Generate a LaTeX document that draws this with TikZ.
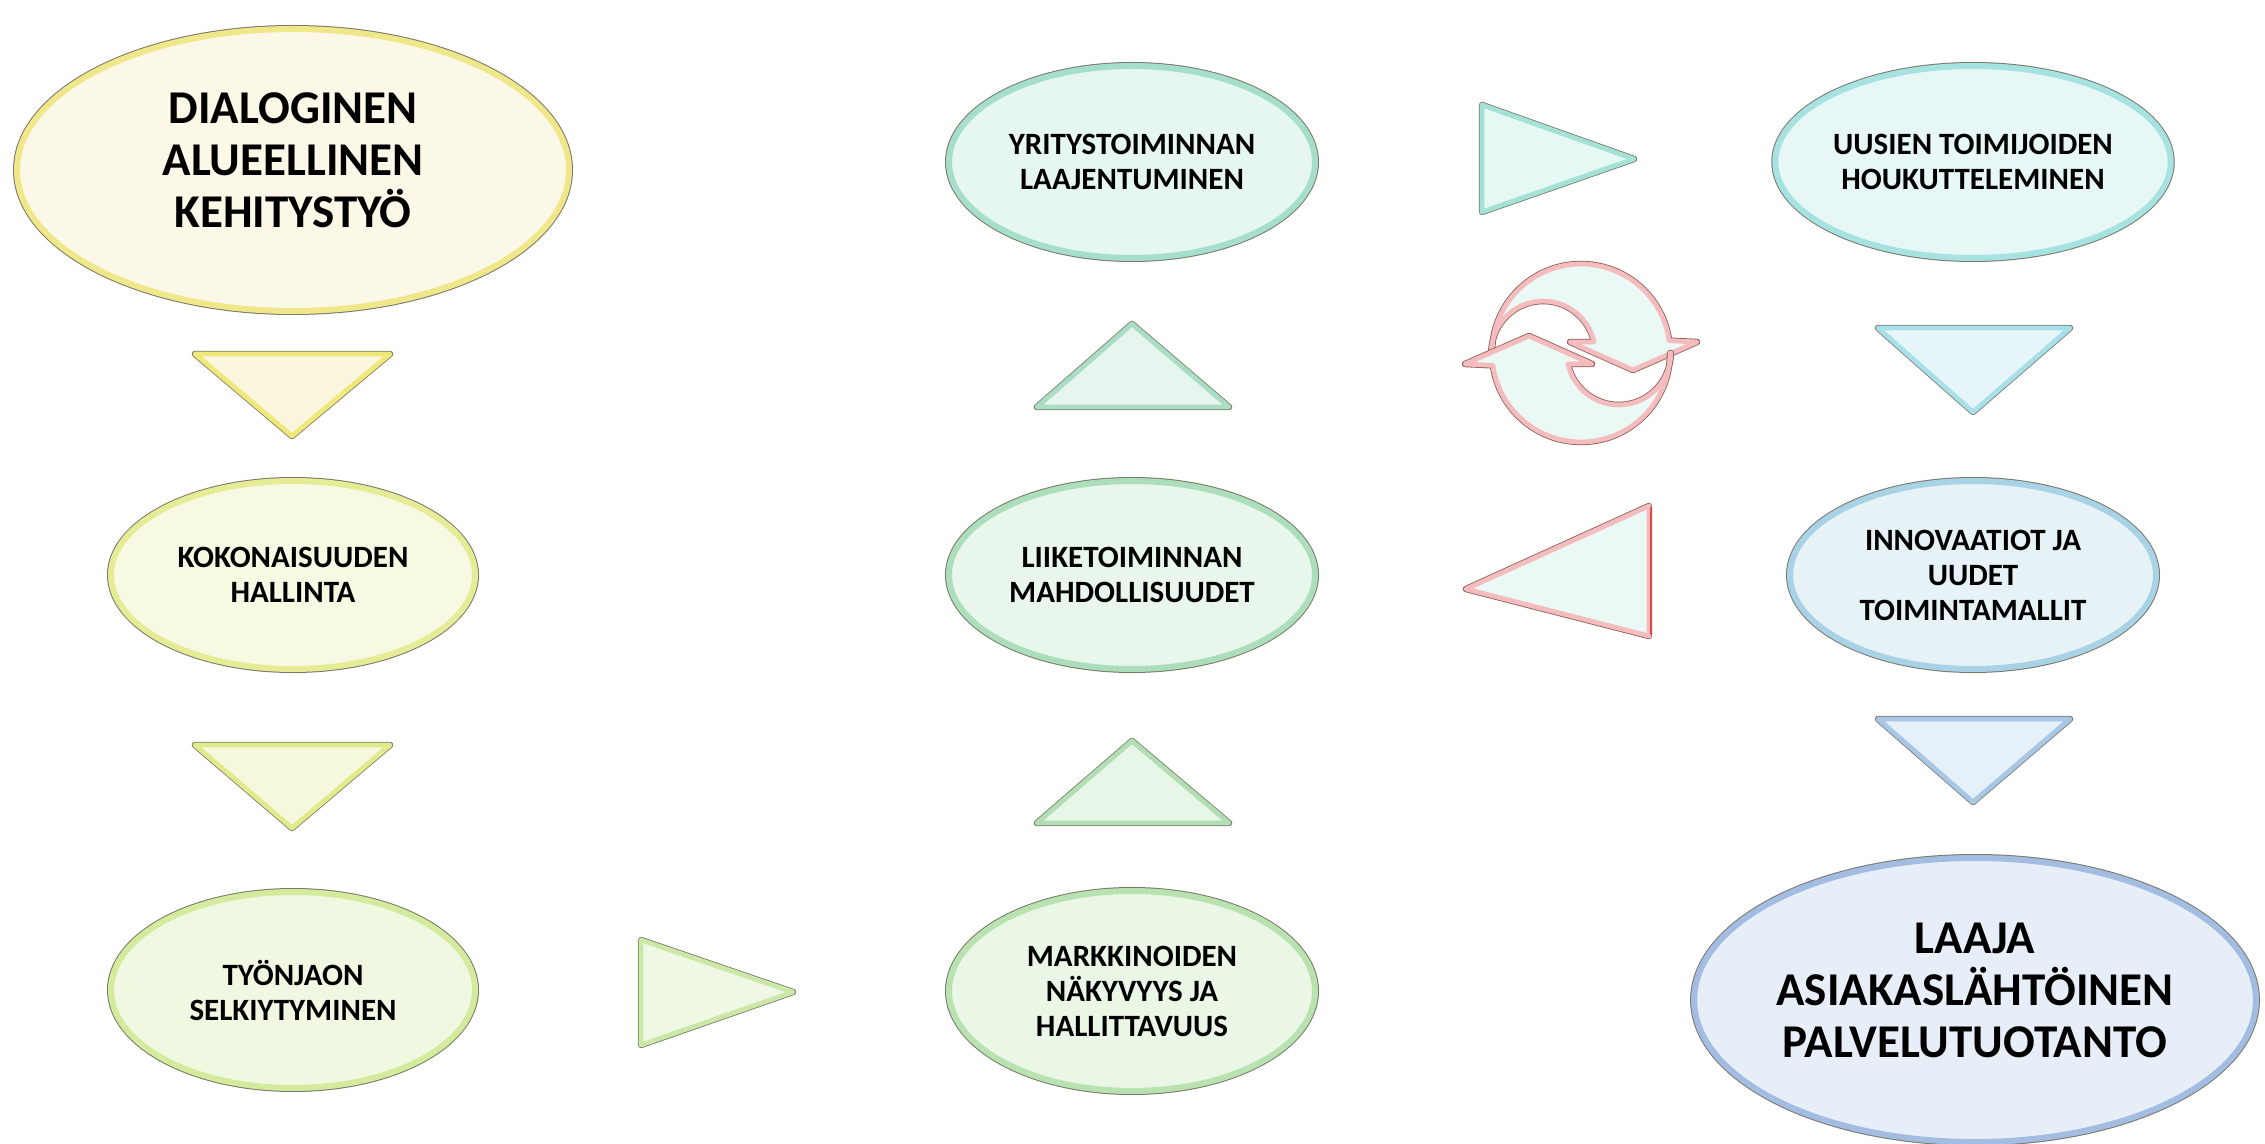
\documentclass[tikz,border=0pt]{standalone}
\usepackage{fontspec}
\setmainfont{Carlito}
\usetikzlibrary{shapes.geometric}
\definecolor{outl}{HTML}{7A7868}
\definecolor{outr}{HTML}{8A5A5A}
% fills / rims
\definecolor{fA}{HTML}{FCF8E8}\definecolor{rA}{HTML}{F0E68A}
\definecolor{fT1}{HTML}{FAF6DE}\definecolor{rT1}{HTML}{F0E878}
\definecolor{fB}{HTML}{F8F9E2}\definecolor{rB}{HTML}{E6EC96}
\definecolor{fT2}{HTML}{F6F8DE}\definecolor{rT2}{HTML}{E2EA8C}
\definecolor{fC}{HTML}{F1F8E2}\definecolor{rC}{HTML}{D4EA9C}
\definecolor{fT3}{HTML}{EEF8E4}\definecolor{rT3}{HTML}{CCE8A8}
\definecolor{fD}{HTML}{EAF6E6}\definecolor{rD}{HTML}{B8E2B0}
\definecolor{fT4}{HTML}{E8F6E8}\definecolor{rT4}{HTML}{B2DEB4}
\definecolor{fE}{HTML}{E8F6EC}\definecolor{rE}{HTML}{ACDEBC}
\definecolor{fT5}{HTML}{E6F6EE}\definecolor{rT5}{HTML}{AADEC4}
\definecolor{fF}{HTML}{E6F6F0}\definecolor{rF}{HTML}{A6DECC}
\definecolor{fT6}{HTML}{E6F8F4}\definecolor{rT6}{HTML}{A4E2D8}
\definecolor{fG}{HTML}{E6F7F6}\definecolor{rG}{HTML}{A6E2E2}
\definecolor{fT7}{HTML}{E6F6F8}\definecolor{rT7}{HTML}{A8E0EA}
\definecolor{fH}{HTML}{E6F2F6}\definecolor{rH}{HTML}{A8D2E6}
\definecolor{fT8}{HTML}{E6F0F8}\definecolor{rT8}{HTML}{A8C6E6}
\definecolor{fI}{HTML}{E8EEF8}\definecolor{rI}{HTML}{A2BCE2}
\definecolor{fR}{HTML}{EAF8F6}\definecolor{rR}{HTML}{F4BCBC}
\definecolor{redline}{HTML}{E04848}
\tikzset{
  bubble/.style n args={2}{ellipse, inner sep=0pt, fill=#1, draw=#2,
     line width=3pt, preaction={draw=outl, line width=4pt}, align=center},
  smalltxt/.style={font=\bfseries\fontsize{15.5}{17.5}\selectfont},
  bigtxt/.style={font=\bfseries\fontsize{23.5}{26}\selectfont},
  tri/.style n args={2}{fill=#1, draw=#2, line width=2.4pt, line join=round,
     preaction={draw=outl, line width=3.2pt, line join=round}},
  redshape/.style={fill=fR, draw=rR, line width=2.4pt, line join=round,
     preaction={draw=outr, line width=3.2pt, line join=round}}
}
\newcommand{\lowpad}{\rule[-10pt]{0pt}{0pt}}
\begin{document}
\begin{tikzpicture}[x=0.5pt, y=-0.5pt]
\useasboundingbox (0,0) rectangle (2265,1144);

% ellipse nodes
\node[bubble={fA}{rA}, bigtxt, minimum width=276pt, minimum height=141pt] (A) at (293,170)
  {DIALOGINEN\\ALUEELLINEN\\KEHITYSTYÖ\lowpad};
\node[bubble={fB}{rB}, smalltxt, minimum width=182pt, minimum height=94pt] (B) at (293,575)
  {KOKONAISUUDEN\\HALLINTA};
\node[bubble={fC}{rC}, smalltxt, minimum width=182pt, minimum height=98pt] (C) at (293,990)
  {TYÖNJAON\\SELKIYTYMINEN};
\node[bubble={fD}{rD}, smalltxt, minimum width=183pt, minimum height=100pt] (D) at (1132,991)
  {MARKKINOIDEN\\NÄKYVYYS JA\\HALLITTAVUUS};
\node[bubble={fE}{rE}, smalltxt, minimum width=183pt, minimum height=94pt] (E) at (1132,575)
  {LIIKETOIMINNAN\\MAHDOLLISUUDET};
\node[bubble={fF}{rF}, smalltxt, minimum width=183pt, minimum height=96pt] (F) at (1132,162)
  {YRITYSTOIMINNAN\\LAAJENTUMINEN};
\node[bubble={fG}{rG}, smalltxt, minimum width=183pt, minimum height=96pt] (G) at (1973,162)
  {UUSIEN TOIMIJOIDEN\\HOUKUTTELEMINEN};
\node[bubble={fH}{rH}, smalltxt, minimum width=183pt, minimum height=94pt] (H) at (1973,575)
  {INNOVAATIOT JA\\UUDET\\TOIMINTAMALLIT};
\node[bubble={fI}{rI}, bigtxt, minimum width=277pt, minimum height=142pt] (I) at (1975,1000)
  {LAAJA\\ASIAKASLÄHTÖINEN\\PALVELUTUOTANTO\lowpad};

% triangle arrows
\draw[tri={fT1}{rT1}] (195,354) -- (390,354) -- (292,436) -- cycle;
\draw[tri={fT2}{rT2}] (195,745) -- (390,745) -- (292,828) -- cycle;
\draw[tri={fT3}{rT3}] (641,940) -- (793,992) -- (641,1045) -- cycle;
\draw[tri={fT4}{rT4}] (1037,823) -- (1229,823) -- (1132,741) -- cycle;
\draw[tri={fT5}{rT5}] (1037,407) -- (1229,407) -- (1132,324) -- cycle;
\draw[tri={fT6}{rT6}] (1482,105) -- (1634,159) -- (1482,212) -- cycle;
\draw[tri={fT7}{rT7}] (1878,328) -- (2070,328) -- (1973,412) -- cycle;
\draw[tri={fT8}{rT8}] (1878,719) -- (2070,719) -- (1973,802) -- cycle;

% red feedback triangle
\draw[redshape] (1649,506) -- (1649,636) -- (1466,589) -- cycle;
\draw[redline, line width=1.2pt] (1651,507) -- (1651,635);

% cycle icon
\begin{scope}[shift={(1581,353)}, yscale=-1]
  \draw[redshape] (-89,0) arc[start angle=180, end angle=8, radius=89]
     -- (116,11) -- (52,-17) -- (-11,11) -- (13,11)
     arc[start angle=12.3, end angle=180, radius=52] -- cycle;
  \draw[redshape] (89,0) arc[start angle=0, end angle=-172, radius=89]
     -- (-116,-11) -- (-52,17) -- (11,-11) -- (-13,-11)
     arc[start angle=192.3, end angle=360, radius=52] -- cycle;
\end{scope}
\end{tikzpicture}
\end{document}
